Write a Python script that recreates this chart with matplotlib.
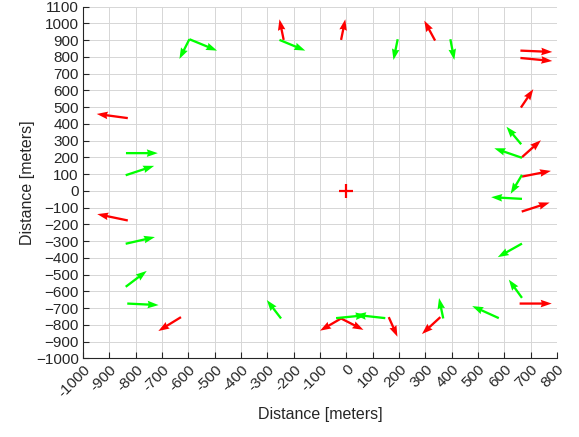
import matplotlib
matplotlib.use("Agg")
from matplotlib import pyplot as plt
import numpy as np

plt.rcParams['font.family'] = ['Liberation Sans', 'DejaVu Sans']

# 红色箭头: 起点 (x, y) 和终点 (x, y)
red_x0 = [-830, -238, -20, 337, 661, 661, 663, 667, 667, 666, -830, -628, 658, 357, 161, -20, -20]
red_y0 = [434, 901, 901, 897, 837, 793, 497, 201, 85, -124, -177, -754, -673, -754, -754, -762, -762]
red_x1 = [-948, -254, -4, 296, 782, 782, 710, 739, 777, 772, -946, -714, 780, 287, 194, -100, 65]
red_y1 = [459, 1024, 1024, 1016, 829, 775, 607, 302, 119, -70, -139, -837, -673, -855, -871, -835, -830]

# 绿色箭头
green_x0 = [-837, -838, -596, -596, -254, 195, 395, 664, 667, 667, 667, 667, 667, 579, 368, 148, -39, -838, -838, -832, -248]
green_y0 = [225, 93, 905, 905, 901, 905, 905, 278, 197, 95, -48, -315, -639, -760, -762, -760, -760, -316, -573, -673, -762]
green_x1 = [-716, -730, -634, -491, -156, 179, 410, 608, 562, 624, 550, 575, 617, 478, 352, 33, 77, -727, -758, -713, -302]
green_y1 = [225, 149, 787, 837, 837, 781, 781, 383, 254, -18, -38, -396, -530, -688, -640, -740, -742, -276, -478, -682, -652]

center = (0, 0)

x_ticks = list(range(-1000, 801, 100))
y_ticks = list(range(-1000, 1101, 100))

fig = plt.figure(figsize=(5.79, 4.37), dpi=100)
ax = fig.add_axes([0.1434, 0.180, 0.8186, 0.805])

def draw(x0, y0, x1, y1, col):
    x0 = np.array(x0); y0 = np.array(y0)
    u = np.array(x1) - x0
    v = np.array(y1) - y0
    ax.quiver(x0, y0, u, v, color=col, angles='xy', scale_units='xy', scale=1,
              units='dots', width=2.3, headwidth=3.3, headlength=4.8, headaxislength=4.4,
              zorder=3)

draw(red_x0, red_y0, red_x1, red_y1, (1, 0, 0))
draw(green_x0, green_y0, green_x1, green_y1, (0, 1, 0))
ax.plot([center[0]], [center[1]], marker='+', color=(1, 0, 0), markersize=10, mew=1.6, zorder=4)

ax.set_xlim(-1000, 800)
ax.set_ylim(-1000, 1100)
ax.set_xticks(x_ticks)
ax.set_yticks(y_ticks)
ax.set_xticklabels([str(t) for t in x_ticks], rotation=45, ha='right', va='top', rotation_mode='anchor')
ax.grid(True, color='#d6d6d6', linewidth=0.7)
ax.set_axisbelow(True)
for s in ['top', 'right']:
    ax.spines[s].set_visible(False)
for s in ['left', 'bottom']:
    ax.spines[s].set_color('#262626')
    ax.spines[s].set_linewidth(0.8)
ax.tick_params(direction='in', length=4, width=0.8, colors='#262626', labelsize=11, pad=3)
ax.set_xlabel('Distance [meters]', fontsize=11.5, color='#262626', labelpad=5)
ax.set_ylabel('Distance [meters]', fontsize=11.5, color='#262626', labelpad=1)

fig.savefig('out.png', dpi=100)
